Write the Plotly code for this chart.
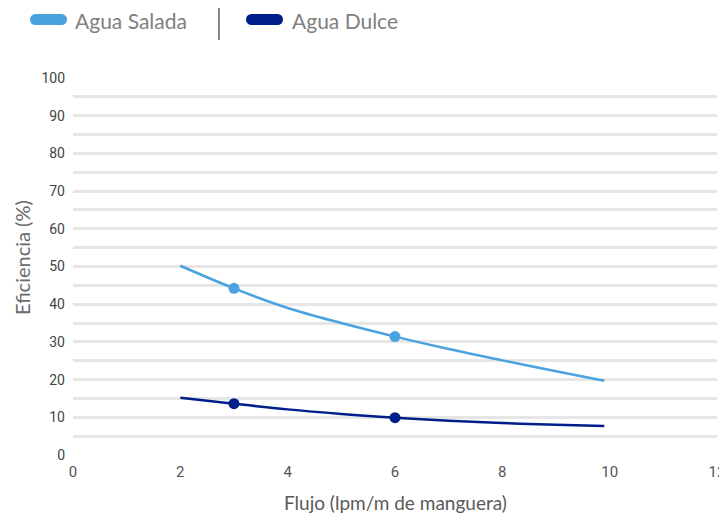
import plotly.graph_objects as go

# Data
curve_x = [2, 3, 4, 5, 6, 7, 8, 9, 9.9]
salada_curve = [50.2, 44.2, 39.0, 35.0, 31.4, 28.1, 25.1, 22.2, 19.7]
dulce_curve = [15.2, 13.6, 12.1, 10.9, 9.9, 9.1, 8.5, 8.0, 7.7]

point_x = [3, 6]
salada_points = [44.2, 31.4]
dulce_points = [13.6, 9.9]

series_names = ["Agua Salada", "Agua Dulce"]
colors = ["#4aa3df", "#001f8a"]

x_ticks = [0, 2, 4, 6, 8, 10, 12]
y_ticks = list(range(0, 101, 10))

fig = go.Figure()
for name, cy, py, col in [(series_names[0], salada_curve, salada_points, colors[0]),
                          (series_names[1], dulce_curve, dulce_points, colors[1])]:
    fig.add_trace(go.Scatter(x=curve_x, y=cy, mode="lines", name=name,
                             line=dict(color=col, width=2.5, shape="spline", smoothing=1.0),
                             showlegend=False, hoverinfo="skip"))
    fig.add_trace(go.Scatter(x=point_x, y=py, mode="markers", name=name,
                             marker=dict(color=col, size=11), showlegend=False))

OFF = 8  # page body margin
W, H = 727 - OFF, 515 - OFF
# plot area in window pixels
PL, PR, PT, PB = 73, 717, 78, 455
L, T = PL - OFF, PT - OFF
R = W - (PR - OFF)
B = H - (PB - OFF)
PW, PH = PR - PL, PB - PT

def px(x):  # window pixel -> paper
    return (x - PL) / PW

def py_(y):
    return (PB - y) / PH

shapes = []
annotations = []
legend_items = [(series_names[0], colors[0], 30, 67, 73), (series_names[1], colors[1], 246, 283, 290)]
for name, col, x0, x1, tx in legend_items:
    shapes.append(dict(type="rect", xref="paper", yref="paper",
                       x0=px(x0 + 5), x1=px(x1 - 5), y0=py_(25), y1=py_(14),
                       fillcolor=col, line=dict(width=0)))
    shapes.append(dict(type="circle", xref="paper", yref="paper",
                       x0=px(x0), x1=px(x0 + 11), y0=py_(25), y1=py_(14),
                       fillcolor=col, line=dict(width=0)))
    shapes.append(dict(type="circle", xref="paper", yref="paper",
                       x0=px(x1 - 11), x1=px(x1), y0=py_(25), y1=py_(14),
                       fillcolor=col, line=dict(width=0)))
    annotations.append(dict(text=name, xref="paper", yref="paper", x=px(tx), y=py_(20),
                            xanchor="left", yanchor="middle", showarrow=False,
                            font=dict(family="Lato", size=21, color="#808080")))
shapes.append(dict(type="line", xref="paper", yref="paper", x0=px(219), x1=px(219),
                   y0=py_(5), y1=py_(40), line=dict(color="#888888", width=2)))

annotations.append(dict(text="Flujo (lpm/m de manguera)", xref="paper", yref="paper",
                        x=px(395), y=py_(502), xanchor="center", yanchor="middle",
                        showarrow=False, font=dict(family="Lato", size=19, color="#5a5a5a")))
annotations.append(dict(text="Eficiencia (%)", xref="paper", yref="paper",
                        x=px(22), y=py_(258), xanchor="center", yanchor="middle",
                        textangle=-90, showarrow=False,
                        font=dict(family="Lato", size=20, color="#6a6a6a")))

fig.update_layout(
    width=W, height=H,
    margin=dict(l=L, r=R, t=T, b=B, autoexpand=False),
    plot_bgcolor="white", paper_bgcolor="white",
    shapes=shapes, annotations=annotations,
    xaxis=dict(range=[0, 12], tickvals=x_ticks, showgrid=False, zeroline=False,
               showline=False, ticks="", ticklabelstandoff=6, automargin=False,
               ticklabeloverflow="allow",
               tickfont=dict(family="Roboto", size=15, color="#555555")),
    yaxis=dict(range=[0, 100], tickvals=y_ticks, showgrid=True, gridcolor="#e6e6e6",
               gridwidth=2.5, zeroline=False, showline=False, ticks="",
               ticklabelstandoff=7, automargin=False,
               minor=dict(dtick=5, tick0=0, showgrid=True, gridcolor="#e6e6e6", gridwidth=2.5),
               tickfont=dict(family="Roboto", size=14, color="#444444")),
    showlegend=False,
)
fig.write_html("out.html")
